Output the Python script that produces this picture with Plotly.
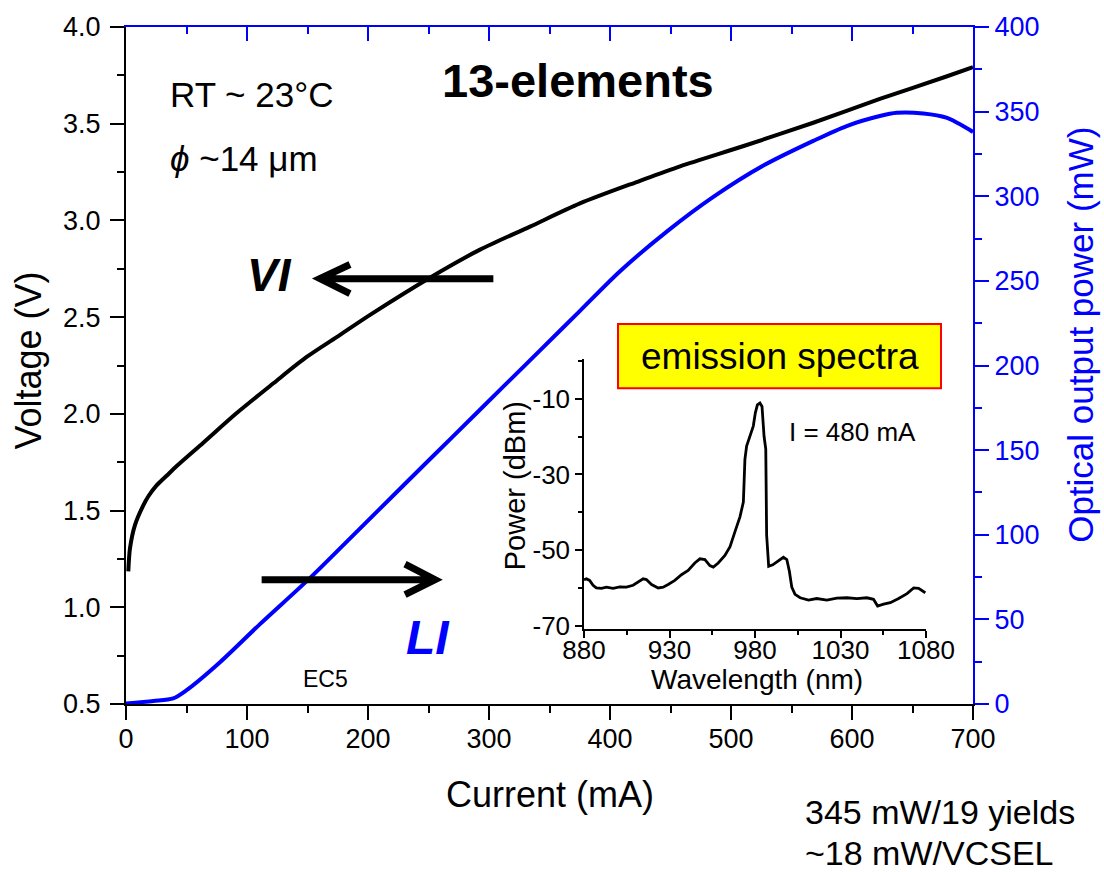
import plotly.graph_objects as go

# ---------------- data ----------------
vi_current = [1.9, 3.3, 7.4, 14.3, 18.5, 25.3, 33.6, 41.9, 63.9, 91.5, 121.8, 149.3, 174.1, 201.7,
              251.2, 292.6, 333.9, 375.2, 424.8, 457.9, 513.0, 568.0, 623.0, 678.0, 700.0]
vi_voltage = [1.186, 1.305, 1.425, 1.527, 1.574, 1.63, 1.68, 1.73, 1.851, 2.004, 2.158, 2.294,
              2.397, 2.512, 2.704, 2.849, 2.968, 3.088, 3.205, 3.28, 3.39, 3.505, 3.628, 3.744,
              3.792]

li_current = [0, 22.6, 39, 50.1, 77.7, 110.7, 152, 187.9, 229.2, 270.5, 311.8, 342,
              375.2, 408.3, 446.9, 485.4, 526.7, 568, 595.6, 623, 637, 659, 678, 700]
li_power = [0.3, 1.8, 3.3, 8.2, 24.7, 47.2, 74.4, 99.8, 129.1, 158.3, 187.5, 208.8,
            232.3, 255.7, 279.1, 299.6, 318.1, 332.7, 341.5, 347.4, 349.3, 348.9, 346.4, 338]

spec_wavelength = [880.0, 881.4, 883.3, 885.3, 887.2, 890.2, 893.1, 897.0, 900.9, 904.8, 908.7,
                   911.6, 914.6, 916.5, 919.5, 923.4, 926.3, 929.2, 933.1, 937.0, 940.9, 944.8,
                   947.8, 950.7, 953.6, 955.6, 958.5, 962.4, 965.4, 968.3, 971.2, 973.2, 974.1,
                   975.1, 977.5, 979.0, 980.2, 981.4, 982.9, 984.1, 985.3, 986.3, 986.8, 988.0,
                   990.4, 993.7, 996.6, 998.6, 1000.1, 1001.5, 1003.4, 1006.4, 1011.3, 1016.1,
                   1022.0, 1027.9, 1033.7, 1039.6, 1045.4, 1049.3, 1051.7, 1055.2, 1059.1,
                   1064.0, 1068.9, 1072.8, 1075.7, 1079.6]
spec_power = [-57.8, -57.6, -58.0, -59.3, -60.0, -60.1, -59.8, -60.1, -59.7, -59.8, -59.3,
              -58.5, -57.6, -57.8, -59.1, -60.0, -59.8, -59.1, -58.0, -56.5, -55.4, -53.4,
              -52.3, -52.5, -54.1, -54.5, -53.4, -51.4, -49.1, -45.1, -41.2, -37.3, -26.0,
              -22.5, -19.4, -17.2, -13.7, -11.6, -11.1, -12.0, -19.9, -23.3, -46.0, -54.3,
              -53.9, -52.8, -51.9, -52.5, -55.6, -59.8, -61.7, -62.6, -63.2, -62.8,
              -63.2, -62.7, -62.6, -62.8, -62.6, -63.0, -64.8, -64.3, -63.9,
              -62.8, -61.5, -60.0, -60.1, -61.3]

x_ticks_main = [0, 100, 200, 300, 400, 500, 600, 700]
y_ticks_left = [0.5, 1.0, 1.5, 2.0, 2.5, 3.0, 3.5, 4.0]
y_ticks_right = [0, 50, 100, 150, 200, 250, 300, 350, 400]
x_ticks_inset = [880, 930, 980, 1030, 1080]
y_ticks_inset = [-70, -50, -30, -10]
y_ticktext_inset = ["-70", "-50", "-30", "-10"]

# ---------------- layout helpers ----------------
W, H = 1104, 872
L, R, T, B = 126, 973, 20, 704
FONT = "Arial, Liberation Sans, sans-serif"
BLUE = "#0000FF"


def px(x):
    return (x - L) / (R - L)


def py(y):
    return (B - y) / (B - T)


fig = go.Figure()

fig.add_trace(go.Scatter(x=vi_current, y=vi_voltage, mode="lines",
                         line=dict(color="black", width=4, shape="spline", smoothing=0.8),
                         xaxis="x", yaxis="y", showlegend=False, hoverinfo="skip"))
fig.add_trace(go.Scatter(x=li_current, y=li_power, mode="lines",
                         line=dict(color=BLUE, width=4, shape="spline", smoothing=0.8),
                         xaxis="x2", yaxis="y2", showlegend=False, hoverinfo="skip"))
fig.add_trace(go.Scatter(x=spec_wavelength, y=spec_power, mode="lines",
                         line=dict(color="black", width=2.8),
                         xaxis="x3", yaxis="y3", showlegend=False, hoverinfo="skip"))

tickfont = dict(family=FONT, size=27, color="black")
fig.update_layout(
    width=W, height=H, autosize=False,
    margin=dict(l=L, r=W - R, t=T, b=H - B, pad=0),
    paper_bgcolor="white", plot_bgcolor="white",
    font=dict(family=FONT, color="black"),
    xaxis=dict(range=[0, 700], tickvals=x_ticks_main, ticks="outside", ticklen=14, tickwidth=2,
               tickcolor="black", showline=True, linecolor="black", linewidth=2,
               showgrid=False, zeroline=False, tickfont=tickfont, ticklabelstandoff=-4,
               minor=dict(dtick=50, tick0=0, ticks="outside", ticklen=7, tickwidth=2,
                          tickcolor="black", showgrid=False),
               anchor="y", domain=[0, 1]),
    yaxis=dict(range=[0.5, 4.0], tickvals=y_ticks_left, tickformat=".1f", ticks="outside",
               ticklen=14, tickwidth=2, tickcolor="black", showline=True, linecolor="black",
               linewidth=2, showgrid=False, zeroline=False, tickfont=tickfont,
               ticklabelstandoff=4,
               minor=dict(dtick=0.25, tick0=0.5, ticks="outside", ticklen=7, tickwidth=2,
                          tickcolor="black", showgrid=False),
               anchor="x", domain=[0, 1]),
    xaxis2=dict(range=[0, 700], overlaying="x", side="top", anchor="y2",
                tickvals=x_ticks_main, ticks="inside", ticklen=14, tickwidth=2,
                tickcolor=BLUE, showline=True, linecolor=BLUE, linewidth=2,
                showticklabels=False, showgrid=False, zeroline=False,
                minor=dict(dtick=50, tick0=0, ticks="inside", ticklen=7, tickwidth=2,
                           tickcolor=BLUE, showgrid=False)),
    yaxis2=dict(range=[0, 400], overlaying="y", side="right", anchor="x2",
                tickvals=y_ticks_right, ticks="outside", ticklen=14, tickwidth=2,
                tickcolor=BLUE, showline=True, linecolor=BLUE, linewidth=2,
                showgrid=False, zeroline=False,
                tickfont=dict(family=FONT, size=27, color=BLUE),
                minor=dict(dtick=25, tick0=0, ticks="outside", ticklen=7, tickwidth=2,
                           tickcolor=BLUE, showgrid=False)),
    xaxis3=dict(domain=[px(584), px(926)], anchor="y3", range=[880, 1080],
                tickvals=x_ticks_inset, ticks="outside", ticklen=7, tickwidth=1.5,
                tickcolor="black", showline=True, linecolor="black", linewidth=1.5,
                showgrid=False, zeroline=False, ticklabelstandoff=-10,
                tickfont=dict(family=FONT, size=26, color="black"),
                minor=dict(dtick=25, tick0=880, ticks="outside", ticklen=4, tickwidth=1.5,
                           tickcolor="black", showgrid=False)),
    yaxis3=dict(domain=[py(628), py(355)], anchor="x3", range=[-70.8, 0.65],
                tickvals=y_ticks_inset, ticktext=y_ticktext_inset, ticks="outside", ticklen=7,
                tickwidth=1.5, tickcolor="black", showline=True, linecolor="black",
                linewidth=1.5, showgrid=False, zeroline=False,
                tickfont=dict(family=FONT, size=26, color="black"),
                minor=dict(dtick=10, tick0=-70, ticks="outside", ticklen=4, tickwidth=1.5,
                           tickcolor="black", showgrid=False)),
)

# arrows (decorations, in main data coordinates)
shapes = [
    dict(type="path", xref="x", yref="y",
         path="M 303.6,2.699 L 161,2.699 M 185.1,2.772 L 160.3,2.699 L 185.1,2.622",
         line=dict(color="black", width=7)),
    dict(type="path", xref="x", yref="y",
         path="M 112.1,1.143 L 254,1.143 M 230.6,1.223 L 255.4,1.143 L 230.6,1.066",
         line=dict(color="black", width=7)),
    dict(type="rect", xref="paper", yref="paper", x0=px(618), x1=px(941), y0=py(385), y1=py(320),
         fillcolor="#FFFF00", line=dict(color="#FF0000", width=2), layer="above"),
]
fig.update_layout(shapes=shapes)


def ann(text, x, y, size, color="black", xanchor="center", angle=0):
    return dict(text=text, x=px(x), y=py(y), xref="paper", yref="paper", showarrow=False,
                xanchor=xanchor, yanchor="middle", textangle=angle,
                font=dict(family=FONT, size=size, color=color))


annotations = [
    ann("RT ~ 23°C", 168, 88, 35, xanchor="left"),
    ann("<i>ϕ</i> ~14 μm", 168, 153, 35, xanchor="left"),
    ann("<b>13-elements</b>", 578, 74, 47),
    ann("<b><i>VI</i></b>", 269, 271, 46),
    ann("<b><i>LI</i></b>", 428, 637, 48, color=BLUE),
    ann("EC5", 325, 679, 23),
    ann("emission spectra", 779.5, 353, 37),
    ann("I = 480 mA", 787, 429, 26, xanchor="left"),
    ann("345 mW/19 yields", 803, 813, 34, xanchor="left"),
    ann("~18 mW/VCSEL", 803, 855, 34, xanchor="left"),
    ann("Current (mA)", 550, 795, 36),
    ann("Voltage (V)", 29, 357, 36, angle=-90),
    ann("Optical output power (mW)", 1081, 331, 35, color=BLUE, angle=-90),
    ann("Power (dBm)", 515, 484, 29, angle=-90),
    ann("Wavelength (nm)", 757, 679, 28),
]
fig.update_layout(annotations=annotations)

fig.write_html("out.html")
